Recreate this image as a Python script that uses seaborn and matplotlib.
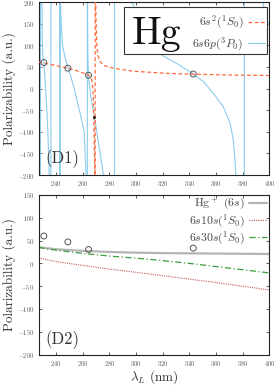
import numpy as np
import pandas as pd
import matplotlib
matplotlib.use("Agg")
import matplotlib.pyplot as plt
from matplotlib.patches import Rectangle
import seaborn as sns

# ---------------- data ----------------
# (D1) ground state 6s^2 (1S0): polarizability vs wavelength, with its pole
lam_ground = [227.0, 231.0, 240.0, 249.0, 258.0, 264.5, 266.0, 267.0, 267.8, 268.4,
              269.0, 269.45, 269.5, 270.2, 270.7, 271.5, 273.2, 276.0, 283.0, 298.0,
              323.0, 343.0, 373.0, 400.0]
alpha_ground = [61, 59, 53, 47, 39, 31, 26, 20, 0, -65,
                -160, -260, 260, 150, 100, 77, 62, 53, 47, 40,
                35, 33, 31, 30]

# (D1) 6s6p (3P0): many resonances (off-scale values mark poles)
lam_3p0 = [227.0, 228.4, 228.4, 229.4, 229.8, 230.3, 231.0, 232.0, 233.0, 234.0,
           234.8, 235.3, 236.3, 236.3, 243.0, 243.0, 243.1, 243.5, 244.0, 245.0,
           247.0, 249.0, 251.0, 253.7, 256.0, 258.0, 261.2, 262.5, 262.8, 263.6,
           263.6, 264.0, 264.4, 266.0, 268.0, 270.0, 272.0, 274.0, 275.7, 276.2,
           284.0, 284.0, 296.0, 297.0, 305.0, 319.4, 330.6, 343.0, 350.6, 358.0,
           365.5, 370.6, 373.0, 374.3, 374.8, 375.2, 381.3, 381.3, 393.0, 395.5,
           397.0, 399.3, 400.0]
alpha_3p0 = [-260, -260, 260, 260, 120, 75, 58, 15, -35, -100,
             -170, -260, -260, 260, 260, -260, 260, 200, 150, 100,
             70, 50, 30, 1, -30, -55, -99, -190, -260, -260,
             260, 80, 30, -15, -50, -85, -127, -165, -200, -260,
             -260, 260, 260, 200, 140, 77, 58, 33.5, 16, -11,
             -42, -80, -119, -165, -196, -260, -260, 260, 260, 193,
             175, 151, 145]

# magic wavelengths (open circles) and the black dot
lam_magic = [231.0, 249.0, 264.5, 343.0]
alpha_magic = [60, 47, 30.5, 33.5]
lam_dot = [268.4]
alpha_dot = [-65]

# (D2) curves
lam_d2 = [227, 240, 260, 280, 300, 320, 340, 360, 380, 400]
alpha_hgion = [35.5, 31, 27.5, 25, 23.5, 22.5, 22, 21.5, 21, 20.5]
alpha_6s10s = [12, 4, -4.5, -12.5, -19.5, -27, -34.5, -42, -50, -58.5]
alpha_6s30s = [35, 29, 22, 16, 11.5, 6, 0, -7, -14, -21]

xticks = [240, 260, 280, 300, 320, 340, 360, 380, 400]
yticks = [-200, -150, -100, -50, 0, 50, 100, 150, 200]

# ---------------- style ----------------
sns.set_theme(style="ticks")
plt.rcParams.update({
    "font.family": "serif",
    "font.serif": ["cmr10", "DejaVu Serif"],
    "mathtext.fontset": "cm",
    "axes.formatter.use_mathtext": True,
    "axes.unicode_minus": True,
    "axes.edgecolor": "#222222",
    "axes.linewidth": 0.8,
})

W, H = 277, 385
fig = plt.figure(figsize=(W / 100, H / 100), dpi=100)

ax1 = fig.add_axes([38.5 / W, 1 - 175 / H, 230.8 / W, 173 / H])
ax2 = fig.add_axes([38.5 / W, 1 - 354.5 / H, 230.8 / W, 159.5 / H])

c_ground = "#ff6a3d"
c_3p0 = "#8ccdee"
c_circ = "#555555"

df_g = pd.DataFrame({"lam": lam_ground, "alpha": alpha_ground})
df_p = pd.DataFrame({"lam": lam_3p0, "alpha": alpha_3p0})

sns.lineplot(data=df_g, x="lam", y="alpha", ax=ax1, sort=False, estimator=None,
             color=c_ground, lw=0.9, linestyle=(0, (3, 2)),
             label=r"$6s^2(^1S_0)$", zorder=3)
sns.lineplot(data=df_p, x="lam", y="alpha", ax=ax1, sort=False, estimator=None,
             color=c_3p0, lw=0.8, label=r"$6s6p(^3P_0)$", zorder=2)
sns.scatterplot(x=lam_magic, y=alpha_magic, ax=ax1, s=18, facecolor="none",
                edgecolor=c_circ, linewidth=0.7, zorder=4)
sns.scatterplot(x=lam_dot, y=alpha_dot, ax=ax1, s=3, color="black",
                edgecolor="black", linewidth=0.2, zorder=4)

df2 = pd.DataFrame({"lam": lam_d2, "ion": alpha_hgion, "s10": alpha_6s10s,
                    "s30": alpha_6s30s})
sns.lineplot(data=df2, x="lam", y="ion", ax=ax2, color="#b5b5b5", lw=1.6,
             label=r"Hg$^+$ (6$s$)")
sns.lineplot(data=df2, x="lam", y="s10", ax=ax2, color="#c85a5a", lw=0.8,
             linestyle=(0, (1, 1)), label=r"$6s10s(^1S_0)$")
sns.lineplot(data=df2, x="lam", y="s30", ax=ax2, color="#3c9c3c", lw=0.9,
             linestyle=(0, (5, 2, 1, 2)), label=r"$6s30s(^1S_0)$")
sns.scatterplot(x=lam_magic, y=alpha_magic, ax=ax2, s=18, facecolor="none",
                edgecolor=c_circ, linewidth=0.7, zorder=4)

for ax in (ax1, ax2):
    ax.set_xlim(227, 400)
    ax.set_xticks(xticks)
    ax.set_ylabel("Polarizability (a.u.)", fontsize=9.5, color="#333333")
    ax.yaxis.set_label_coords(-0.097, 0.5)
    ax.tick_params(direction="in", length=2.2, width=0.6, labelsize=4.6,
                   labelcolor="#555555", color="#444444", top=True, right=True,
                   pad=3)
    for s in ax.spines.values():
        s.set_visible(True)

ax1.set_ylim(-200, 200)
ax1.set_yticks(yticks)
ax1.set_xlabel("")
ax2.set_ylim(-200, 150)
ax2.set_yticks(yticks[:-1])
ax2.set_xlabel(r"$\lambda_L$ (nm)", fontsize=9.5, color="#333333")
ax2.xaxis.set_label_coords(0.5, -0.083)

# legend box with big "Hg" on top panel
rect = Rectangle((0.370, 0.700), 0.620, 0.271, transform=ax1.transAxes,
                 facecolor="white", edgecolor="#333333", lw=0.8, zorder=5)
ax1.add_patch(rect)
ax1.text(0.512, 0.755, "Hg", transform=ax1.transAxes, fontsize=28.5,
         ha="center", va="baseline", color="#111111", zorder=7)
leg1 = ax1.legend(loc="upper right", bbox_to_anchor=(0.983, 0.93),
                  frameon=False, markerfirst=False, fontsize=8.5,
                  handlelength=1.5, handletextpad=0.35, labelspacing=0.35,
                  borderpad=0, borderaxespad=0)
leg1.set_zorder(8)
for t in leg1.get_texts():
    t.set_color("#444444")

leg2 = ax2.legend(loc="upper right", bbox_to_anchor=(0.99, 0.995),
                  frameon=False, markerfirst=False, fontsize=8.5,
                  handlelength=1.5, handletextpad=0.35, labelspacing=0.0,
                  borderpad=0, borderaxespad=0)
for t in leg2.get_texts():
    t.set_color("#444444")

ax1.text(0.03, 0.095, "(D1)", transform=ax1.transAxes, fontsize=12,
         ha="left", va="center", color="#333333")
ax2.text(0.03, 0.091, "(D2)", transform=ax2.transAxes, fontsize=12,
         ha="left", va="center", color="#333333")

fig.savefig("out.png", dpi=100)
